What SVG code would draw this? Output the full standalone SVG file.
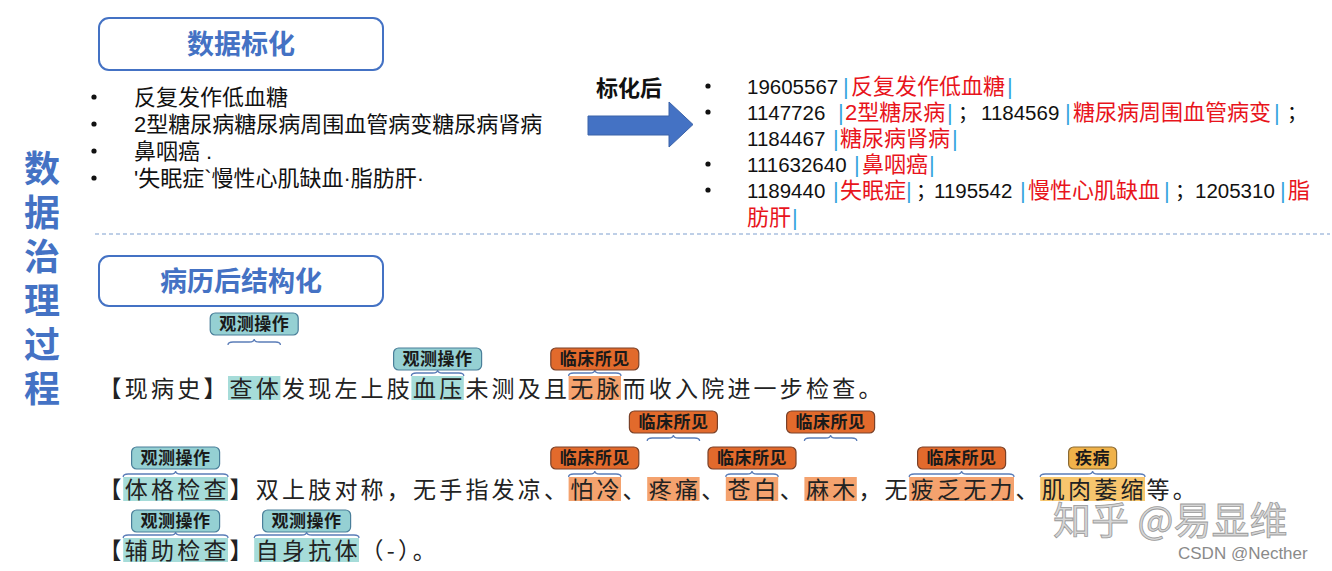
<svg xmlns="http://www.w3.org/2000/svg" width="1332" height="571" viewBox="0 0 1332 571">
<defs>
<style>
.vt{font-family:'Noto Sans CJK SC',sans-serif;font-size:36px;font-weight:bold;fill:#4472C4;writing-mode:vertical-rl;letter-spacing:8px}
.hbox{fill:#fff;stroke:#4472C4;stroke-width:2}
.htxt{font-family:'Noto Sans CJK SC',sans-serif;font-size:27px;font-weight:bold;fill:#4472C4;text-anchor:middle}
.ll{font-family:'Liberation Sans','Noto Sans CJK SC',sans-serif;font-size:22px;fill:#111}
.num{font-family:'Liberation Sans','Noto Sans CJK SC',sans-serif;font-size:20.5px;fill:#111}
.red{font-family:'Liberation Sans','Noto Sans CJK SC',sans-serif;font-size:22px;fill:#E8141C}
.semi{font-family:'Noto Sans CJK SC',sans-serif;font-size:20px;fill:#111}
.bar{font-family:'Liberation Sans',sans-serif;font-size:22px;fill:#3AA6DD}
.body{font-family:'Noto Sans CJK SC',sans-serif;font-size:23px;letter-spacing:3.2px;fill:#222}
.hT{fill:#A6DCD9}
.hO{fill:#F4A26E}
.hY{fill:#F7C66E}
.pT{fill:#95D0D3;stroke:#4A7F9A;stroke-width:1.2}
.pO{fill:#E26A2C;stroke:#7A4128;stroke-width:1.2}
.pY{fill:#F0B24A;stroke:#8A6A33;stroke-width:1.2}
.pt{font-family:'Noto Sans CJK SC',sans-serif;font-size:17px;font-weight:bold;fill:#1a1a1a;text-anchor:middle;letter-spacing:0.5px}
.brace{fill:none;stroke:#5B7DB8;stroke-width:1.3}
</style>
</defs>
<rect width="1332" height="571" fill="#fff"/>

<g id="side-title">
<text class="vt" x="42" y="150">数据治理过程</text>
</g>

<g id="box-standardize">
<rect class="hbox" x="99" y="18" width="284" height="52" rx="10"/>
<text class="htxt" x="241" y="54">数据标化</text>
</g>

<g id="list-before">
<circle cx="94" cy="97" r="2.6" fill="#111"/>
<circle cx="94" cy="124" r="2.6" fill="#111"/>
<circle cx="94" cy="151" r="2.6" fill="#111"/>
<circle cx="94" cy="178" r="2.6" fill="#111"/>
<text class="ll" x="134" y="105">反复发作低血糖</text>
<text class="ll" x="134" y="132">2型糖尿病糖尿病周围血管病变糖尿病肾病</text>
<text class="ll" x="134" y="159">鼻咽癌 .</text>
<text class="ll" x="134" y="186">'失眠症`慢性心肌缺血·脂肪肝·</text>
</g>

<g id="arrow">
<text x="596" y="96" style="font-family:'Noto Sans CJK SC',sans-serif;font-size:22px;font-weight:bold;fill:#111">标化后</text>
<polygon points="588,116 669,116 669,102 693,124.5 669,147 669,135 588,135" fill="#4472C4" stroke="#3A62A8" stroke-width="1"/>
</g>

<g id="list-after">
<circle cx="708" cy="86" r="2.6" fill="#111"/>
<circle cx="708" cy="112" r="2.6" fill="#111"/>
<circle cx="708" cy="164" r="2.6" fill="#111"/>
<circle cx="708" cy="190" r="2.6" fill="#111"/>
<text class="num" x="747" y="94">19605567</text>
<text class="bar" x="843" y="94">|</text>
<text class="red" x="851" y="94">反复发作低血糖</text>
<text class="bar" x="1007" y="94">|</text>

<text class="num" x="747" y="120">1147726</text>
<text class="bar" x="838" y="120">|</text>
<text class="red" x="845" y="120">2型糖尿病</text>
<text class="bar" x="947" y="120">|</text>
<text class="semi" x="958" y="120">；</text>
<text class="num" x="981" y="120">1184569</text>
<text class="bar" x="1065" y="120">|</text>
<text class="red" x="1073" y="120">糖尿病周围血管病变</text>
<text class="bar" x="1274" y="120">|</text>
<text class="semi" x="1287" y="120">；</text>

<text class="num" x="747" y="146">1184467</text>
<text class="bar" x="833" y="146">|</text>
<text class="red" x="840" y="146">糖尿病肾病</text>
<text class="bar" x="952" y="146">|</text>

<text class="num" x="747" y="172">111632640</text>
<text class="bar" x="854" y="172">|</text>
<text class="red" x="862" y="172">鼻咽癌</text>
<text class="bar" x="929" y="172">|</text>

<text class="num" x="747" y="198">1189440</text>
<text class="bar" x="833" y="198">|</text>
<text class="red" x="840" y="198">失眠症</text>
<text class="bar" x="906" y="198">|</text>
<text class="semi" x="916" y="198">；</text>
<text class="num" x="934" y="198">1195542</text>
<text class="bar" x="1020" y="198">|</text>
<text class="red" x="1028" y="198">慢性心肌缺血</text>
<text class="bar" x="1164" y="198">|</text>
<text class="semi" x="1175" y="198">；</text>
<text class="num" x="1195" y="198">1205310</text>
<text class="bar" x="1280" y="198">|</text>
<text class="red" x="1288" y="198">脂</text>

<text class="red" x="747" y="225">肪肝</text>
<text class="bar" x="792" y="225">|</text>
</g>

<line x1="95" y1="234" x2="1330" y2="234" stroke="#7F9FCF" stroke-width="1.2" stroke-dasharray="4 3"/>

<g id="box-structure">
<rect class="hbox" x="99" y="256" width="284" height="50" rx="10"/>
<text class="htxt" x="241" y="291">病历后结构化</text>
</g>

<g id="record-lines">
<rect class="hT" x="228" y="376" width="52.4" height="24"/>
<rect class="hT" x="411.4" y="376" width="52.4" height="24"/>
<rect class="hO" x="568.6" y="376" width="52.4" height="24"/>
<text class="body" x="98.6" y="396.5">【现病史】查体发现左上肢血压未测及且无脉而收入院进一步检查。</text>

<rect class="hT" x="123.2" y="477" width="104.8" height="24"/>
<rect class="hO" x="568.6" y="477" width="52.4" height="24"/>
<rect class="hO" x="647.2" y="477" width="52.4" height="24"/>
<rect class="hO" x="725.8" y="477" width="52.4" height="24"/>
<rect class="hO" x="804.4" y="477" width="52.4" height="24"/>
<rect class="hO" x="909.2" y="477" width="104.8" height="24"/>
<rect class="hY" x="1040.2" y="477" width="104.8" height="24"/>
<text class="body" x="98.6" y="497.5">【体格检查】双上肢对称，无手指发凉、怕冷、疼痛、苍白、麻木，无疲乏无力、肌肉萎缩等。</text>

<rect class="hT" x="123.2" y="538" width="104.8" height="24"/>
<rect class="hT" x="254.2" y="538" width="104.8" height="24"/>
<text class="body" x="98.6" y="558.5">【辅助检查】自身抗体（-）。</text>
</g>

<g id="connectors">
<path class="brace" d="M228,345 q0,-3 5,-3 H249.2 q5,0 5,-3 q0,3 5,3 H275.4 q5,0 5,3"/>
<path class="brace" d="M411.4,376 q0,-3 5,-3 H432.6 q5,0 5,-3 q0,3 5,3 H458.8 q5,0 5,3"/>
<path class="brace" d="M568.6,376 q0,-3 5,-3 H589.8 q5,0 5,-3 q0,3 5,3 H616 q5,0 5,3"/>
<path class="brace" d="M647.2,441 q0,-3 5,-3 H668.4 q5,0 5,-3 q0,3 5,3 H694.6 q5,0 5,3"/>
<path class="brace" d="M804.4,441 q0,-3 5,-3 H825.6 q5,0 5,-3 q0,3 5,3 H851.8 q5,0 5,3"/>
<path class="brace" d="M123.2,477 q0,-3 5,-3 H170.6 q5,0 5,-3 q0,3 5,3 H223 q5,0 5,3"/>
<path class="brace" d="M568.6,477 q0,-3 5,-3 H589.8 q5,0 5,-3 q0,3 5,3 H616 q5,0 5,3"/>
<path class="brace" d="M725.8,477 q0,-3 5,-3 H747 q5,0 5,-3 q0,3 5,3 H773.2 q5,0 5,3"/>
<path class="brace" d="M909.2,477 q0,-3 5,-3 H956.6 q5,0 5,-3 q0,3 5,3 H1009 q5,0 5,3"/>
<path class="brace" d="M1040.2,477 q0,-3 5,-3 H1087.6 q5,0 5,-3 q0,3 5,3 H1140 q5,0 5,3"/>
<path class="brace" d="M123.2,538 q0,-3 5,-3 H170.6 q5,0 5,-3 q0,3 5,3 H223 q5,0 5,3"/>
<path class="brace" d="M254.2,538 q0,-3 5,-3 H301.6 q5,0 5,-3 q0,3 5,3 H354 q5,0 5,3"/>
</g>

<g id="label-obs-top"><rect class="pT" x="210.2" y="313" width="88" height="22" rx="5"/><text class="pt" x="254.2" y="330">观测操作</text></g>
<g id="label-obs-bp"><rect class="pT" x="393.6" y="348" width="88" height="22" rx="5"/><text class="pt" x="437.6" y="365">观测操作</text></g>
<g id="label-clin-pulse"><rect class="pO" x="550.8" y="348" width="88" height="22" rx="5"/><text class="pt" x="594.8" y="365">临床所见</text></g>
<g id="label-clin-pain"><rect class="pO" x="629.4" y="411" width="88" height="22" rx="5"/><text class="pt" x="673.4" y="428">临床所见</text></g>
<g id="label-clin-numb"><rect class="pO" x="786.6" y="411" width="88" height="22" rx="5"/><text class="pt" x="830.6" y="428">临床所见</text></g>
<g id="label-obs-exam"><rect class="pT" x="131.6" y="447" width="88" height="22" rx="5"/><text class="pt" x="175.6" y="464">观测操作</text></g>
<g id="label-clin-cold"><rect class="pO" x="550.8" y="447" width="88" height="22" rx="5"/><text class="pt" x="594.8" y="464">临床所见</text></g>
<g id="label-clin-pale"><rect class="pO" x="708" y="447" width="88" height="22" rx="5"/><text class="pt" x="752" y="464">临床所见</text></g>
<g id="label-clin-fatigue"><rect class="pO" x="917.6" y="447" width="88" height="22" rx="5"/><text class="pt" x="961.6" y="464">临床所见</text></g>
<g id="label-disease"><rect class="pY" x="1068.6" y="447" width="48" height="22" rx="5"/><text class="pt" x="1092.6" y="464">疾病</text></g>
<g id="label-obs-aux"><rect class="pT" x="131.6" y="510" width="88" height="22" rx="5"/><text class="pt" x="175.6" y="527">观测操作</text></g>
<g id="label-obs-ab"><rect class="pT" x="262.6" y="510" width="88" height="22" rx="5"/><text class="pt" x="306.6" y="527">观测操作</text></g>

<g id="watermarks">
<text x="1053" y="534" style="font-family:'Noto Sans CJK SC',sans-serif;font-size:38px;fill:#d6d6d6;stroke:#9a9a9a;stroke-width:0.8">知乎 @易显维</text>
<text x="1178" y="559" style="font-family:'Liberation Sans',sans-serif;font-size:17px;fill:#8a8a8a">CSDN @Necther</text>
</g>
</svg>
